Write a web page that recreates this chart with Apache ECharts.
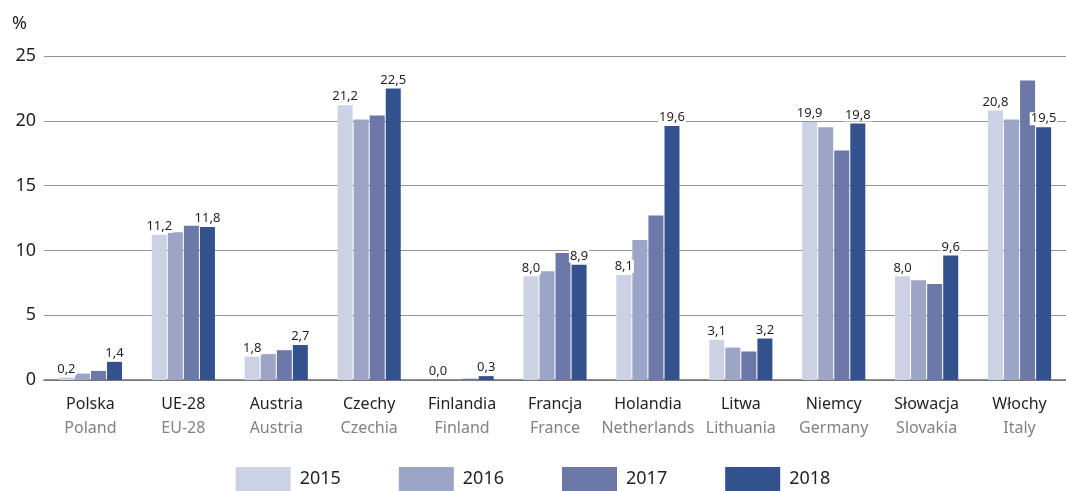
<!DOCTYPE html>
<html>
<head>
<meta charset="utf-8">
<script src="https://cdn.jsdelivr.net/npm/echarts@6/dist/echarts.min.js"></script>
<style>
  html, body { margin: 0; padding: 0; background: #fff; }
  #chart { width: 1066px; height: 491px; }
</style>
</head>
<body>
<div id="chart"></div>
<script>
// categories: Polish name + English name
var namesPl = ["Polska", "UE-28", "Austria", "Czechy", "Finlandia", "Francja", "Holandia", "Litwa", "Niemcy", "Słowacja", "Włochy"];
var namesEn = ["Poland", "EU-28", "Austria", "Czechia", "Finland", "France", "Netherlands", "Lithuania", "Germany", "Slovakia", "Italy"];

var years = ["2015", "2016", "2017", "2018"];
var v2015 = [0.2, 11.2, 1.8, 21.2, 0.0, 8.0, 8.1, 3.1, 19.9, 8.0, 20.8];
var v2016 = [0.5, 11.4, 2.0, 20.1, 0.0, 8.4, 10.8, 2.5, 19.5, 7.7, 20.1];
var v2017 = [0.7, 11.9, 2.3, 20.4, 0.1, 9.8, 12.7, 2.2, 17.7, 7.4, 23.1];
var v2018 = [1.4, 11.8, 2.7, 22.5, 0.3, 8.9, 19.6, 3.2, 19.8, 9.6, 19.5];
var yTicks = [0, 5, 10, 15, 20, 25];

var colors = ["#cdd1e4", "#9da5c6", "#6b78a8", "#33528d"];
var font = "Noto Sans";

var categories = namesPl.map(function (n, i) { return n + "\n" + namesEn[i]; });

function valueLabel(show) {
  return {
    show: show,
    position: "top",
    distance: 2,
    color: "#231f20",
    fontFamily: font,
    fontSize: 13,
    backgroundColor: "#fff",
    padding: [0, 1, 0, 1],
    formatter: function (p) { return p.value.toFixed(1).replace(".", ","); }
  };
}

function makeSeries(name, data, color, showLabel) {
  return {
    name: name,
    type: "bar",
    data: data,
    barWidth: 15,
    barGap: "7%",
    itemStyle: { color: color },
    label: valueLabel(showLabel),
    emphasis: { disabled: true }
  };
}

var chart = echarts.init(document.getElementById("chart"));
chart.setOption({
  animation: false,
  textStyle: { fontFamily: font },
  grid: { left: 44, right: 0, top: 56, bottom: 111 },
  legend: {
    bottom: 0,
    padding: 0,
    left: "center",
    icon: "rect",
    itemWidth: 55,
    itemHeight: 24,
    itemGap: 58,
    textStyle: { fontSize: 18, color: "#231f20", fontFamily: font, padding: [0, 0, 0, 4] },
    data: years
  },
  graphic: [{
    type: "text",
    left: 12,
    top: 15,
    style: { text: "%", fontSize: 18, fill: "#231f20", fontFamily: font }
  }],
  xAxis: {
    type: "category",
    data: categories,
    axisTick: { show: false },
    axisLine: { lineStyle: { color: "#6d6e71", width: 1.5 } },
    axisLabel: {
      interval: 0,
      margin: 12,
      formatter: function (v) {
        var parts = v.split("\n");
        return "{pl|" + parts[0] + "}\n{en|" + parts[1] + "}";
      },
      rich: {
        pl: { fontSize: 16, color: "#231f20", fontFamily: font, lineHeight: 24 },
        en: { fontSize: 16, color: "#808285", fontFamily: font, lineHeight: 24 }
      }
    }
  },
  yAxis: {
    type: "value",
    min: yTicks[0],
    max: yTicks[yTicks.length - 1],
    interval: 5,
    axisLine: { show: false },
    axisTick: { show: false },
    splitLine: { lineStyle: { color: "#939598", width: 1 } },
    axisLabel: { fontSize: 18, color: "#231f20", fontFamily: font, margin: 8 }
  },
  series: [
    makeSeries(years[0], v2015, colors[0], true),
    makeSeries(years[1], v2016, colors[1], false),
    makeSeries(years[2], v2017, colors[2], false),
    makeSeries(years[3], v2018, colors[3], true)
  ]
});
</script>
</body>
</html>
